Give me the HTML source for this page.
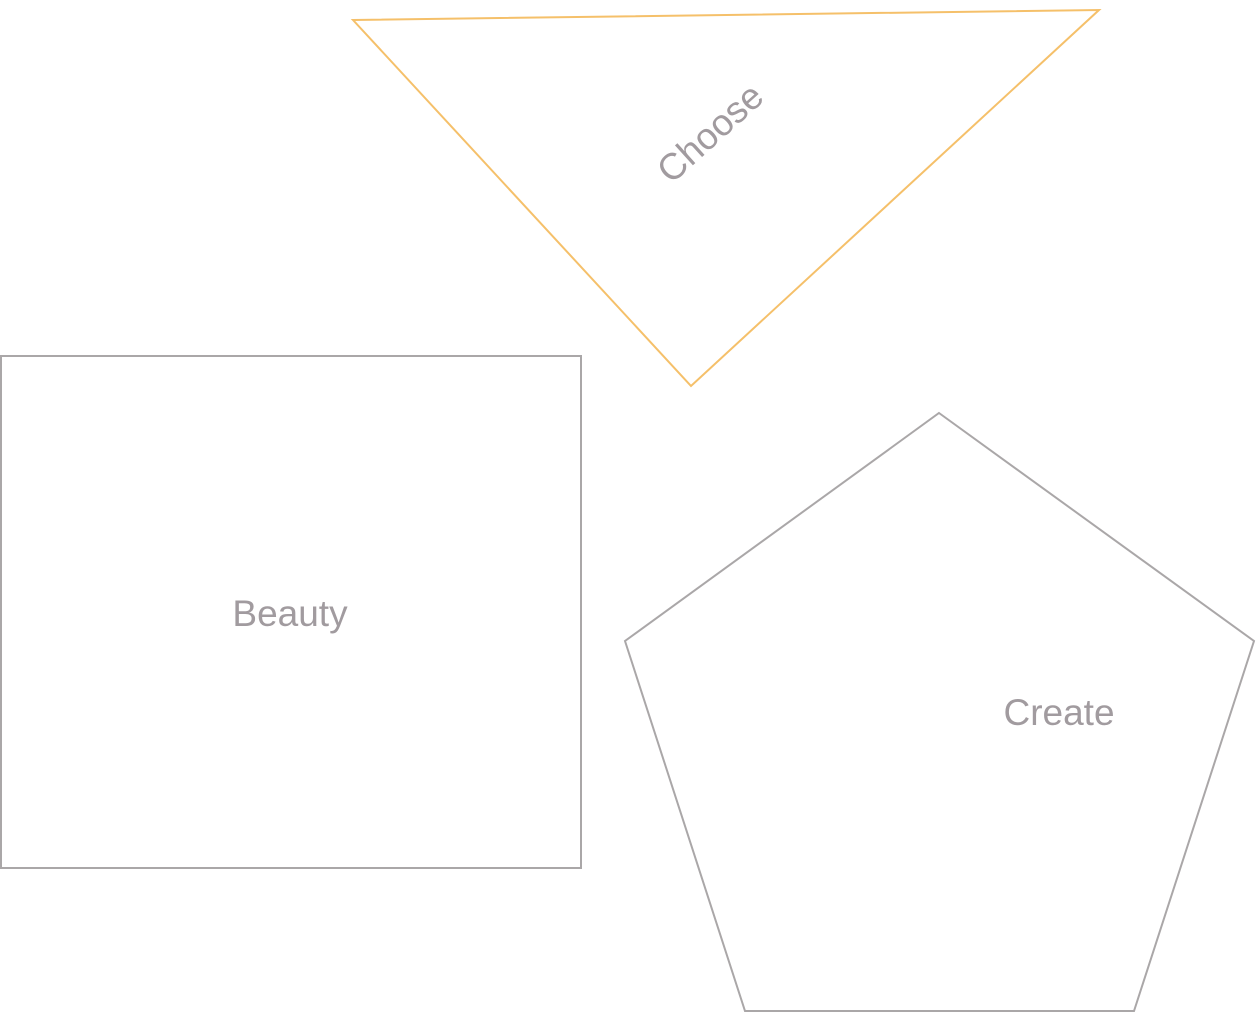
<!DOCTYPE html>
<html><head><meta charset="utf-8"><style>
html,body{margin:0;padding:0;background:#fff;width:1256px;height:1014px;overflow:hidden}
text{font-family:"Liberation Sans",sans-serif;fill:#a19b9f;font-size:37px}
</style></head><body>
<svg width="1256" height="1014" viewBox="0 0 1256 1014" xmlns="http://www.w3.org/2000/svg">
<polygon points="353,20 1099,10 691,386" fill="none" stroke="#f5c06a" stroke-width="2"/>
<rect x="1" y="356" width="580" height="512" fill="none" stroke="#aaa7a8" stroke-width="2"/>
<polygon points="939,413 1254,641 1134,1011 745,1011 625,641" fill="none" stroke="#aaa7a8" stroke-width="2"/>
<text x="712" y="135" text-anchor="middle" dominant-baseline="middle" transform="rotate(-42 712 135)">Choose</text>
<text x="290" y="616" text-anchor="middle" dominant-baseline="middle">Beauty</text>
<text x="1059" y="715" text-anchor="middle" dominant-baseline="middle">Create</text>
</svg>
</body></html>
